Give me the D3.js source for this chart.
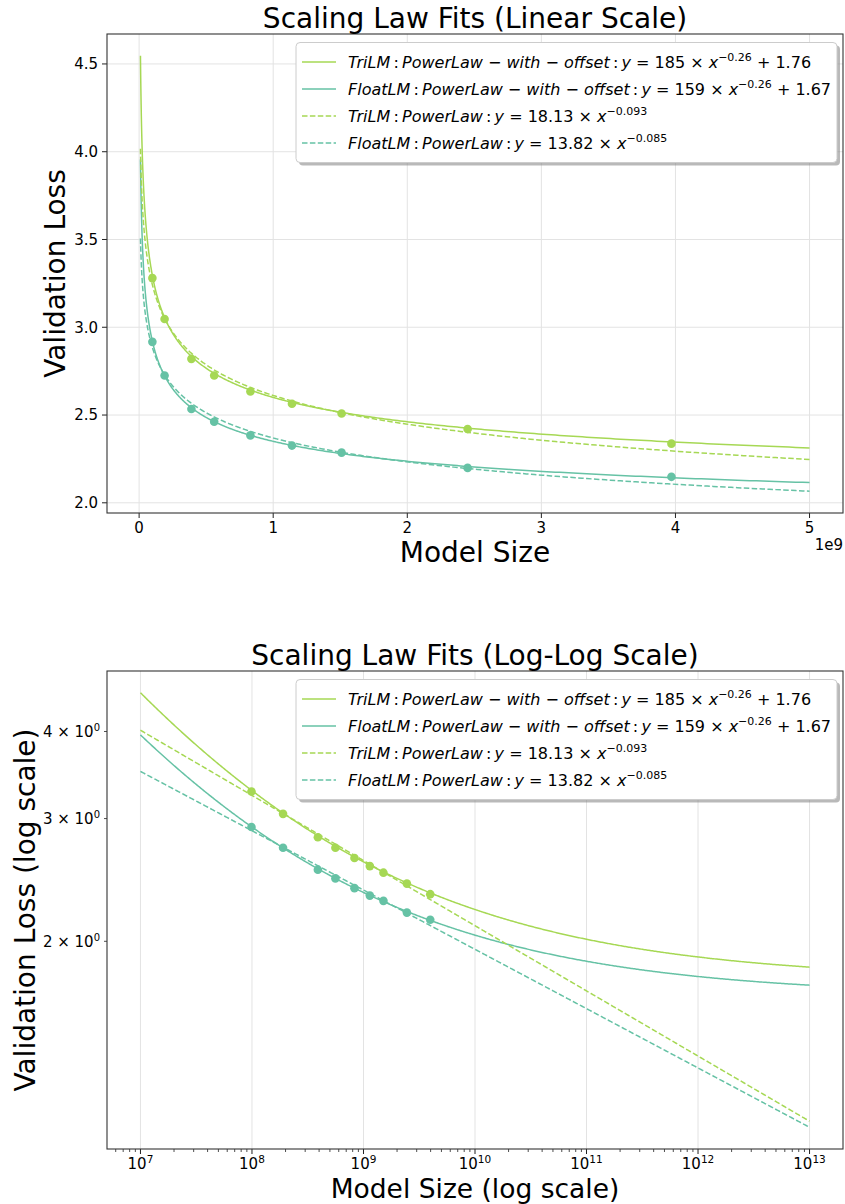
<!DOCTYPE html>
<html><head><meta charset="utf-8">
<script src="https://cdn.jsdelivr.net/npm/d3@7/dist/d3.min.js"></script>
<style>
body{margin:0;background:#fff}
svg{display:block}
text{font-family:"DejaVu Sans",sans-serif;fill:#000}
</style>
</head><body>
<svg id="chart" width="845" height="1204"></svg>
<script>
// ---------------- DATA ----------------
const modelSizes   = [0.099e9, 0.19e9, 0.39e9, 0.56e9, 0.83e9, 1.14e9, 1.51e9, 2.45e9, 3.97e9];
const triLMLoss    = [3.280, 3.047, 2.820, 2.725, 2.634, 2.564, 2.509, 2.420, 2.337];
const floatLMLoss  = [2.917, 2.725, 2.534, 2.462, 2.384, 2.326, 2.286, 2.199, 2.148];

// fitted scaling laws: y = a * x^(-b) + c
const fitModel  = ["TriLM", "FloatLM", "TriLM", "FloatLM"];
const fitKind   = ["offset", "offset", "plain", "plain"];
const fitA      = [185, 159, 18.13, 13.82];
const fitB      = [0.2603, 0.2632, 0.0935, 0.0851];
const fitC      = [1.76, 1.67, 0, 0];
const fitTextA  = ["185", "159", "18.13", "13.82"];
const fitTextB  = ["\u22120.26", "\u22120.26", "\u22120.093", "\u22120.085"];
const fitTextC  = ["1.76", "1.67", null, null];

const fitRangeLinear = [1e7, 5e9];
const fitRangeLog    = [1e7, 1e13];

const linearXTicks = [0, 1e9, 2e9, 3e9, 4e9, 5e9];
const linearXTickLabels = ["0", "1", "2", "3", "4", "5"];
const linearYTicks = [2.0, 2.5, 3.0, 3.5, 4.0, 4.5];
const logXTickExps = [7, 8, 9, 10, 11, 12, 13];
const logYTicks = [2, 3, 4];

const titles  = ["Scaling Law Fits (Linear Scale)", "Scaling Law Fits (Log-Log Scale)"];
const xLabels = ["Model Size", "Model Size (log scale)"];
const yLabels = ["Validation Loss", "Validation Loss (log scale)"];

// ---------------- STYLE ----------------
const colorOf = {TriLM: "#a6d854", FloatLM: "#66c2a5"};
const DASH = "5.5,2.4";
const FONT_TICK = 15, FONT_LABEL = 28, FONT_LEGEND = 16;

const svg = d3.select("#chart");
const fit = (i, x) => fitA[i] * Math.pow(x, -fitB[i]) + fitC[i];

function samples(range, n) {
  const l0 = Math.log10(range[0]), l1 = Math.log10(range[1]);
  return d3.range(n + 1).map(k => Math.pow(10, l0 + (l1 - l0) * k / n));
}

function panel(cfg) {
  const {left, right, top, bottom, log, idx} = cfg;
  const g = svg.append("g");
  const range = log ? fitRangeLog : fitRangeLinear;
  const xs = samples(range, 600);
  let ymin = Infinity, ymax = -Infinity;
  fitA.forEach((_, i) => xs.forEach(x => { const v = fit(i, x); ymin = Math.min(ymin, v); ymax = Math.max(ymax, v); }));
  let x, y;
  if (!log) {
    const m = (range[1] - range[0]) * 0.05;
    x = d3.scaleLinear().domain([range[0] - m, range[1] + m]).range([left, right]);
    const my = (ymax - ymin) * 0.05;
    y = d3.scaleLinear().domain([ymin - my, ymax + my]).range([bottom, top]);
  } else {
    const l0 = Math.log10(range[0]), l1 = Math.log10(range[1]), m = (l1 - l0) * 0.05;
    x = d3.scaleLog().domain([Math.pow(10, l0 - m), Math.pow(10, l1 + m)]).range([left, right]);
    const a0 = Math.log10(ymin), a1 = Math.log10(ymax), my = (a1 - a0) * 0.05;
    y = d3.scaleLog().domain([Math.pow(10, a0 - my), Math.pow(10, a1 + my)]).range([bottom, top]);
  }

  const clipId = "clip" + idx;
  svg.append("clipPath").attr("id", clipId).append("rect")
    .attr("x", left).attr("y", top).attr("width", right - left).attr("height", bottom - top);

  // grid
  const gridColor = "#e3e3e3";
  const xGridVals = log ? logXTickExps.map(e => Math.pow(10, e)) : linearXTicks;
  g.append("g").selectAll("line").data(xGridVals).join("line")
    .attr("x1", d => x(d)).attr("x2", d => x(d)).attr("y1", top).attr("y2", bottom)
    .attr("stroke", gridColor).attr("stroke-width", 1);
  if (!log) {
    g.append("g").selectAll("line").data(linearYTicks).join("line")
      .attr("x1", left).attr("x2", right).attr("y1", d => y(d)).attr("y2", d => y(d))
      .attr("stroke", gridColor).attr("stroke-width", 1);
  }

  const plot = g.append("g").attr("clip-path", `url(#${clipId})`);
  [["TriLM", triLMLoss], ["FloatLM", floatLMLoss]].forEach(([name, vals]) => {
    plot.append("g").selectAll("circle").data(vals).join("circle")
      .attr("cx", (d, i) => x(modelSizes[i])).attr("cy", d => y(d)).attr("r", 4.3)
      .attr("fill", colorOf[name]);
  });
  const line = d3.line().x(d => x(d[0])).y(d => y(d[1]));
  fitA.forEach((_, i) => {
    plot.append("path").datum(xs.map(v => [v, fit(i, v)]))
      .attr("d", line).attr("fill", "none")
      .attr("stroke", colorOf[fitModel[i]]).attr("stroke-width", 1.5)
      .attr("stroke-dasharray", fitKind[i] === "plain" ? DASH : null);
  });

  // axes ticks
  const axG = g.append("g");
  const tickColor = "#222";
  if (!log) {
    linearXTicks.forEach((t, k) => {
      axG.append("line").attr("x1", x(t)).attr("x2", x(t)).attr("y1", bottom).attr("y2", bottom + 5)
        .attr("stroke", tickColor).attr("stroke-width", 1);
      axG.append("text").attr("x", x(t)).attr("y", bottom + 20).attr("text-anchor", "middle")
        .attr("font-size", FONT_TICK).text(linearXTickLabels[k]);
    });
    linearYTicks.forEach(t => {
      axG.append("line").attr("x1", left - 5).attr("x2", left).attr("y1", y(t)).attr("y2", y(t))
        .attr("stroke", tickColor).attr("stroke-width", 1);
      axG.append("text").attr("x", left - 9).attr("y", y(t) + 5.4).attr("text-anchor", "end")
        .attr("font-size", FONT_TICK).text(d3.format(".1f")(t));
    });
    axG.append("text").attr("x", right).attr("y", bottom + 37).attr("text-anchor", "end")
      .attr("font-size", FONT_TICK).text("1e9");
  } else {
    const [d0, d1] = x.domain();
    for (let e = 6; e <= 13; e++) {
      for (let m = 2; m <= 9; m++) {
        const v = m * Math.pow(10, e);
        if (v < d0 || v > d1) continue;
        axG.append("line").attr("x1", x(v)).attr("x2", x(v)).attr("y1", bottom).attr("y2", bottom + 3)
          .attr("stroke", tickColor).attr("stroke-width", 0.8);
      }
    }
    logXTickExps.forEach(e => {
      const v = Math.pow(10, e);
      axG.append("line").attr("x1", x(v)).attr("x2", x(v)).attr("y1", bottom).attr("y2", bottom + 5)
        .attr("stroke", tickColor).attr("stroke-width", 1);
      const t = axG.append("text").attr("x", x(v)).attr("y", bottom + 20).attr("text-anchor", "middle")
        .attr("font-size", FONT_TICK);
      t.append("tspan").text("10");
      t.append("tspan").attr("dy", -6).attr("font-size", 10.5).text(String(e));
    });
    logYTicks.forEach(v => {
      axG.append("line").attr("x1", left - 3).attr("x2", left).attr("y1", y(v)).attr("y2", y(v))
        .attr("stroke", tickColor).attr("stroke-width", 0.8);
      const t = axG.append("text").attr("x", left - 7).attr("y", y(v) + 5.5).attr("text-anchor", "end")
        .attr("font-size", FONT_TICK);
      t.append("tspan").text(v + " \u00d7 10");
      t.append("tspan").attr("dy", -6).attr("font-size", 10).text("0");
    });
  }

  // spines
  g.append("rect").attr("x", left).attr("y", top).attr("width", right - left).attr("height", bottom - top)
    .attr("fill", "none").attr("stroke", "#333").attr("stroke-width", 1.1);

  // title & labels
  const cx = (left + right) / 2;
  g.append("text").attr("x", cx).attr("y", top - 6).attr("text-anchor", "middle")
    .attr("font-size", FONT_LABEL).text(titles[idx]);
  g.append("text").attr("x", cx).attr("y", log ? bottom + 48.5 : bottom + 49).attr("text-anchor", "middle")
    .attr("font-size", log ? 26.5 : FONT_LABEL).text(xLabels[idx]);
  const ylx = log ? 35 : 65;
  g.append("text").attr("transform", `translate(${ylx},${(top + bottom) / 2}) rotate(-90)`)
    .attr("text-anchor", "middle").attr("font-size", FONT_LABEL).text(yLabels[idx]);

  // legend
  const lg = g.append("g");
  const lx = 296, ly = top + 8.5, lw = 541, lh = 120;
  lg.append("rect").attr("x", lx + 3).attr("y", ly + 3).attr("width", lw).attr("height", lh).attr("rx", 4)
    .attr("fill", "#7f7f7f").attr("opacity", 0.55);
  lg.append("rect").attr("x", lx).attr("y", ly).attr("width", lw).attr("height", lh).attr("rx", 4)
    .attr("fill", "#fff").attr("stroke", "#cccccc").attr("stroke-width", 1);
  fitA.forEach((_, i) => {
    const ry = ly + 19.5 + i * 27;
    lg.append("line").attr("x1", lx + 6).attr("x2", lx + 40).attr("y1", ry).attr("y2", ry)
      .attr("stroke", colorOf[fitModel[i]]).attr("stroke-width", 1.5)
      .attr("stroke-dasharray", fitKind[i] === "plain" ? DASH : null);
    const t = lg.append("text").attr("x", lx + 52).attr("y", ry + 5.5).attr("font-size", FONT_LEGEND);
    const it = s => t.append("tspan").attr("font-style", "italic").text(s);
    const up = s => t.append("tspan").text(s);
    it(fitModel[i]); up("\u2009:\u2009");
    it("PowerLaw");
    if (fitKind[i] === "offset") { up(" \u2212 "); it("with"); up(" \u2212 "); it("offset"); }
    up("\u2009:\u2009"); it("y"); up(" = " + fitTextA[i] + " \u00d7 "); it("x");
    t.append("tspan").attr("dy", -6.5).attr("font-size", 11).text(fitTextB[i]);
    if (fitTextC[i]) t.append("tspan").attr("dy", 6.5).text(" + " + fitTextC[i]);
  });
}

panel({left: 107, right: 843, top: 34, bottom: 513, log: false, idx: 0});
panel({left: 107, right: 843, top: 671, bottom: 1149, log: true, idx: 1});
</script>
</body></html>
